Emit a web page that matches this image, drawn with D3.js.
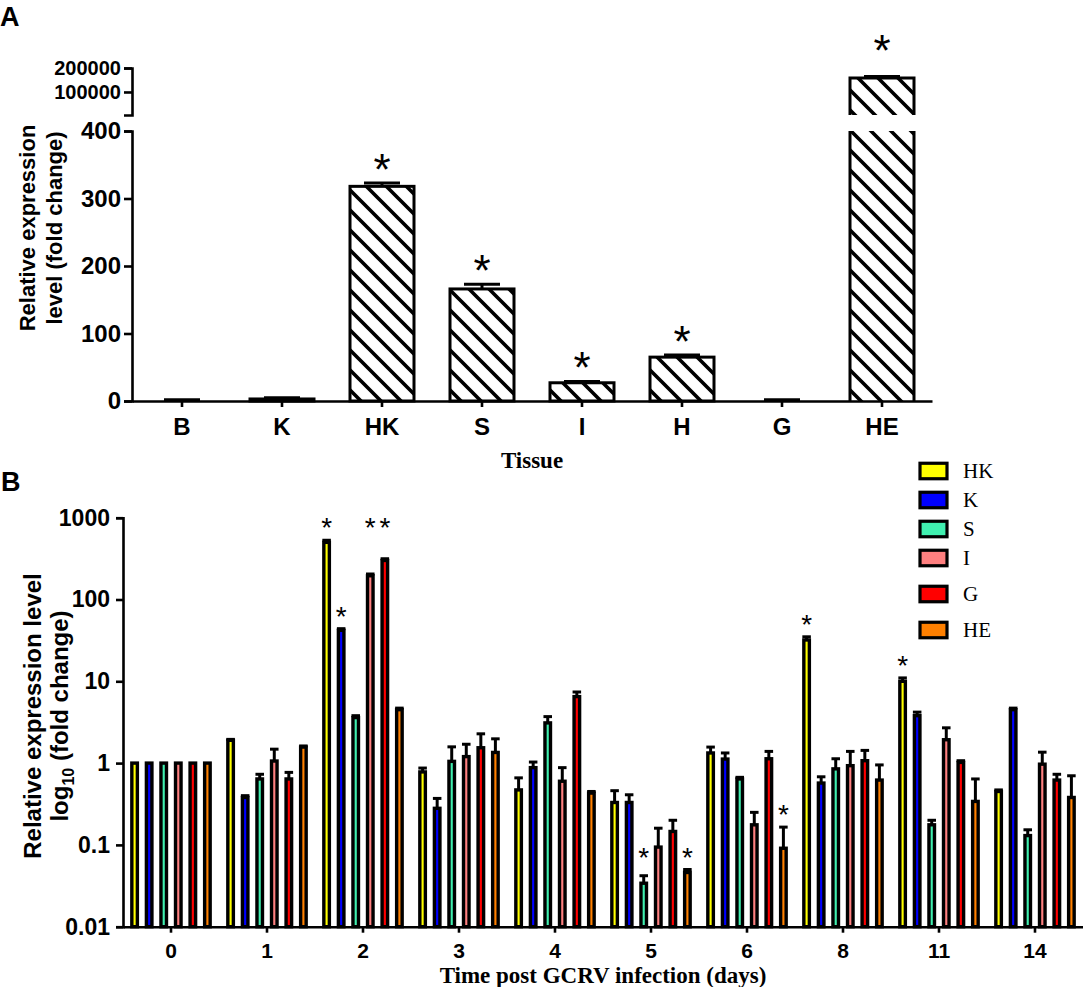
<!DOCTYPE html>
<html>
<head>
<meta charset="utf-8">
<script src="https://cdn.jsdelivr.net/npm/d3@7"></script>
<style>
body { margin: 0; background: #fff; }
svg text { font-family: 'Liberation Sans', Arial, sans-serif; }
</style>
</head>
<body>
<svg id="chart" width="1083" height="987"></svg>
<script>
// Panel A - tissue distribution
let tissuesA = ['B', 'K', 'HK', 'S', 'I', 'H', 'G', 'HE']
let meanA = [1, 3, 318, 166, 27, 65, 1, 158000]
let upperA = [2, 5, 323, 173, 29, 68, 2, 165000]
let sigA = ['HK', 'S', 'I', 'H', 'HE']
let lowTicksA = [0, 100, 200, 300, 400]
let highTicksA = [100000, 200000]

// Panel B - time course after GCRV infection
let days = ['0', '1', '2', '3', '4', '5', '6', '8', '11', '14']
let tissuesB = ['HK', 'K', 'S', 'I', 'G', 'HE']
let colorsB = ['#ffff00', '#0000ff', '#40f0b0', '#ff8080', '#ff0000', '#ff8000']
let hkB = [1, 1.9, 500, 0.78, 0.47, 0.33, 1.33, 32, 10, 0.45]
let kB = [1, 0.38, 42, 0.28, 0.88, 0.33, 1.12, 0.57, 3.8, 4.5]
let sB = [1, 0.64, 3.6, 1.05, 3.1, 0.034, 0.64, 0.85, 0.176, 0.13]
let iB = [1, 1.06, 195, 1.2, 0.6, 0.094, 0.176, 0.93, 1.93, 0.97]
let gB = [1, 0.64, 300, 1.54, 6.5, 0.146, 1.13, 1.07, 1.02, 0.62]
let heB = [1, 1.57, 4.5, 1.35, 0.43, 0.046, 0.091, 0.62, 0.34, 0.38]
let hkUpper = [1, 1.95, 530, 0.87, 0.66, 0.46, 1.57, 35, 11, 0.47]
let kUpper = [1, 0.40, 44, 0.37, 1.03, 0.41, 1.33, 0.68, 4.2, 4.7]
let sUpper = [1, 0.73, 3.8, 1.58, 3.7, 0.042, 0.67, 1.13, 0.2, 0.153]
let iUpper = [1, 1.48, 205, 1.7, 0.88, 0.16, 0.25, 1.39, 2.7, 1.36]
let gUpper = [1, 0.77, 315, 2.28, 7.4, 0.2, 1.39, 1.43, 1.07, 0.73]
let heUpper = [1, 1.62, 4.7, 1.98, 0.45, 0.05, 0.165, 0.95, 0.64, 0.7]
let sigB = [['2', 'HK'], ['2', 'K'], ['2', 'I'], ['2', 'G'], ['5', 'S'], ['5', 'HE'], ['6', 'HE'], ['8', 'HK'], ['11', 'HK']]
let ticksB = [0.01, 0.1, 1, 10, 100, 1000]

let seriesB = [hkB, kB, sB, iB, gB, heB]
let upperB = [hkUpper, kUpper, sUpper, iUpper, gUpper, heUpper]

let svg = d3.select('#chart')
let lineW = 2.6
let serif = "'Liberation Serif', 'Times New Roman', serif"

let pattern = svg.append('defs').append('pattern')
    .attr('id', 'hatch')
    .attr('patternUnits', 'userSpaceOnUse')
    .attr('width', 20)
    .attr('height', 20)
pattern.append('path')
    .attr('d', 'M-5,-5L25,25M-5,15L5,25M15,-5L25,5')
    .attr('stroke', 'black')
    .attr('stroke-width', 3.6)

// ---------- Panel A ----------
let baseA = 401
let breakLow = 131
let breakHigh = 115
let xA = d3.scaleBand().domain(tissuesA).range([132, 932]).paddingInner(0.36).paddingOuter(0.18)
let yLow = d3.scaleLinear().domain([0, 400]).range([baseA, breakLow])
let yHigh = d3.scaleLinear().domain([4000, 200000]).range([breakHigh, 68])
let yA = v => v > 400 ? yHigh(v) : yLow(v)

let plotA = svg.append('g')

tissuesA.forEach((t, i) => {
    let x0 = xA(t)
    let x1 = x0 + xA.bandwidth()
    let v = meanA[i]
    if (v > 400) {
        // broken bar: two hatched pieces, outline without the cut edges
        plotA.append('rect').attr('x', x0).attr('y', yHigh(v))
            .attr('width', xA.bandwidth()).attr('height', breakHigh - yHigh(v))
            .attr('fill', 'url(#hatch)')
        plotA.append('rect').attr('x', x0).attr('y', breakLow)
            .attr('width', xA.bandwidth()).attr('height', baseA - breakLow)
            .attr('fill', 'url(#hatch)')
        plotA.append('path')
            .attr('d', `M${x0},${baseA}V${breakLow}M${x0},${breakHigh}V${yHigh(v)}H${x1}V${breakHigh}M${x1},${breakLow}V${baseA}`)
            .attr('fill', 'none').attr('stroke', 'black').attr('stroke-width', 3)
    } else if (baseA - yLow(v) > 1.5) {
        plotA.append('rect').attr('x', x0).attr('y', yLow(v))
            .attr('width', xA.bandwidth()).attr('height', baseA - yLow(v))
            .attr('fill', 'url(#hatch)')
            .attr('stroke', 'black').attr('stroke-width', 3)
    }
    // error bar
    let cx = x0 + xA.bandwidth() / 2
    let yTop = yA(upperA[i])
    plotA.append('line').attr('x1', cx).attr('x2', cx).attr('y1', yA(v)).attr('y2', yTop)
        .attr('stroke', 'black').attr('stroke-width', 3)
    plotA.append('line').attr('x1', cx - 18).attr('x2', cx + 18).attr('y1', yTop).attr('y2', yTop)
        .attr('stroke', 'black').attr('stroke-width', 3)
    if (sigA.includes(t)) {
        let gap = v > 400 ? 35 : 23
        plotA.append('text').attr('x', cx).attr('y', yTop - gap + 25)
            .attr('text-anchor', 'middle').style('font-size', '44px').text('*')
    }
})

let axisStyle = (g, size, bold) => {
    g.select('.domain').attr('stroke-width', lineW)
    g.selectAll('.tick line').attr('stroke-width', lineW)
    g.selectAll('.tick text')
        .style('font-size', size + 'px')
        .style('font-weight', bold ? 'bold' : 'normal')
        .attr('fill', 'black')
}

svg.append('g').attr('transform', 'translate(132,0)')
    .call(d3.axisLeft(yLow).tickValues(lowTicksA).tickSize(8).tickPadding(3))
    .call(g => axisStyle(g, 24, true))
svg.append('g').attr('transform', 'translate(132,0)')
    .call(d3.axisLeft(yHigh).tickValues(highTicksA).tickFormat(d3.format('d')).tickSize(8).tickPadding(3))
    .call(g => axisStyle(g, 20, true))
svg.append('g').attr('transform', `translate(0,${baseA})`)
    .call(d3.axisBottom(xA).tickSize(6).tickSizeOuter(0).tickPadding(11))
    .call(g => axisStyle(g, 24, true))

svg.append('text').attr('transform', 'translate(35,228) rotate(-90)')
    .attr('text-anchor', 'middle').style('font-size', '22px').style('font-weight', 'bold')
    .text('Relative expression')
svg.append('text').attr('transform', 'translate(62,228) rotate(-90)')
    .attr('text-anchor', 'middle').style('font-size', '22px').style('font-weight', 'bold')
    .text('level (fold change)')
svg.append('text').attr('x', 532).attr('y', 468)
    .attr('text-anchor', 'middle')
    .style('font-family', serif)
    .style('font-size', '23px').style('font-weight', 'bold')
    .text('Tissue')
svg.append('text').attr('x', 0).attr('y', 26)
    .style('font-size', '27px').style('font-weight', 'bold').text('A')

// ---------- Panel B ----------
let baseB = 926.7
let x0B = d3.scaleBand().domain(days).range([123, 1083]).paddingInner(0.09).paddingOuter(0.045)
let x1B = d3.scaleBand().domain(tissuesB).range([0, x0B.bandwidth()]).paddingInner(0.62).paddingOuter(0.31)
let yB = d3.scaleLog().domain([0.01, 1000]).range([baseB, 517.7])
let colorB = d3.scaleOrdinal().domain(tissuesB).range(colorsB)

let rowsB = []
days.forEach((d, di) => {
    tissuesB.forEach((t, ti) => {
        rowsB.push({ day: d, tissue: t, value: seriesB[ti][di], upper: upperB[ti][di] })
    })
})

let plotB = svg.append('g')
let barsB = plotB.selectAll('g.bar').data(rowsB).join('g').attr('class', 'bar')
barsB.append('rect')
    .attr('x', d => x0B(d.day) + x1B(d.tissue))
    .attr('y', d => yB(d.value))
    .attr('width', x1B.bandwidth())
    .attr('height', d => baseB - yB(d.value))
    .attr('fill', d => colorB(d.tissue))
    .attr('stroke', 'black')
    .attr('stroke-width', 3.4)
let errB = barsB.filter(d => d.upper > d.value * 1.005)
errB.append('line')
    .attr('x1', d => x0B(d.day) + x1B(d.tissue) + x1B.bandwidth() / 2)
    .attr('x2', d => x0B(d.day) + x1B(d.tissue) + x1B.bandwidth() / 2)
    .attr('y1', d => yB(d.value))
    .attr('y2', d => yB(d.upper))
    .attr('stroke', 'black').attr('stroke-width', 3)
errB.append('line')
    .attr('x1', d => x0B(d.day) + x1B(d.tissue) - 1.5)
    .attr('x2', d => x0B(d.day) + x1B(d.tissue) + x1B.bandwidth() + 1.5)
    .attr('y1', d => yB(d.upper))
    .attr('y2', d => yB(d.upper))
    .attr('stroke', 'black').attr('stroke-width', 3)

// asterisks: those close to the highest one of the same day share its row
let marks = sigB.map(([d, t]) => {
    let row = rowsB.find(r => r.day === d && r.tissue === t)
    return { day: d, tissue: t, y: yB(row.upper) - 19 }
})
marks.forEach(m => {
    m.row = d3.min(marks.filter(o => o.day === m.day && Math.abs(o.y - m.y) < 40), o => o.y)
})
marks.forEach(m => {
    plotB.append('text')
        .attr('x', x0B(m.day) + x1B(m.tissue) + x1B.bandwidth() / 2)
        .attr('y', m.row + 16)
        .attr('text-anchor', 'middle')
        .style('font-size', '28px')
        .text('*')
})

svg.append('g').attr('transform', 'translate(123,0)')
    .call(d3.axisLeft(yB).tickValues(ticksB).tickFormat(d => String(d)).tickSize(7).tickPadding(6))
    .call(g => axisStyle(g, 23, true))
svg.append('g').attr('transform', `translate(0,${baseB})`)
    .call(d3.axisBottom(x0B).tickSize(6).tickSizeOuter(0).tickPadding(10))
    .call(g => axisStyle(g, 21, true))

svg.append('text').attr('transform', 'translate(41,716) rotate(-90)')
    .attr('text-anchor', 'middle').style('font-size', '24px').style('font-weight', 'bold')
    .text('Relative expression level')
let t2 = svg.append('text').attr('transform', 'translate(68,716) rotate(-90)')
    .attr('text-anchor', 'middle').style('font-size', '24px').style('font-weight', 'bold')
t2.append('tspan').text('log')
t2.append('tspan').attr('dy', 6).style('font-size', '16px').text('10')
t2.append('tspan').attr('dy', -6).text(' (fold change)')

svg.append('text').attr('x', 603).attr('y', 983)
    .attr('text-anchor', 'middle')
    .style('font-family', serif)
    .style('font-size', '23px').style('font-weight', 'bold')
    .text('Time post GCRV infection (days)')
svg.append('text').attr('x', 1).attr('y', 491)
    .style('font-size', '27px').style('font-weight', 'bold').text('B')

// legend
let legend = svg.append('g')
tissuesB.forEach((t, i) => {
    let cy = 471 + i * 29 + (i >= 4 ? 7 * (i - 3) : 0)
    legend.append('rect').attr('x', 920).attr('y', cy - 7.75).attr('width', 27).attr('height', 15.5)
        .attr('fill', colorB(t)).attr('stroke', 'black').attr('stroke-width', 3.2)
    legend.append('text').attr('x', 963).attr('y', cy + 6.5)
        .style('font-family', serif)
        .style('font-size', '21px')
        .text(t)
})
</script>
</body>
</html>
